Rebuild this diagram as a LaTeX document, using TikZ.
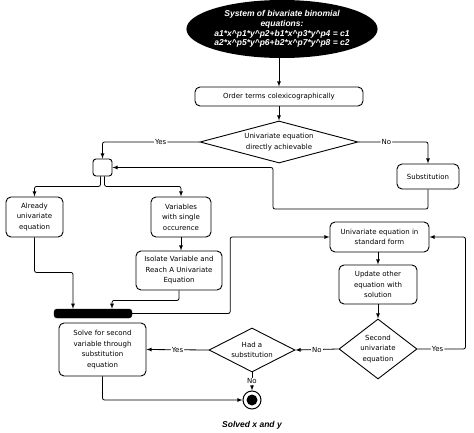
\documentclass[tikz,border=0pt]{standalone}
\usepackage{fontspec}
\setmainfont{DejaVu Sans}
\newfontfamily\headfont{Liberation Sans}
\usepackage{tikz}
\usetikzlibrary{shapes, arrows, positioning, calc}

\begin{document}
\begin{tikzpicture}[x=1pt, y=-1pt, >=latex, font=\fontsize{7}{10.5}\selectfont,
    box/.style={draw, rounded corners=5pt, line width=0.9pt, align=center, inner sep=1pt},
    choice/.style={draw, diamond, line width=0.9pt, align=center, inner sep=0pt},
    flow/.style={->, line width=0.8pt, rounded corners=2pt},
    lbl/.style={fill=white, inner sep=1pt}]
    \useasboundingbox (0,0) rectangle (474,433);

    % Start
    \node[ellipse, fill=black, text=white, inner sep=0pt, minimum width=190, minimum height=58,
          align=center, font=\headfont\bfseries\itshape\fontsize{8.5}{9.8}\selectfont] (start) at (282,29)
        {System of bivariate binomial\\equations:\\
         a1*x\textasciicircum p1*y\textasciicircum p2+b1*x\textasciicircum p3*y\textasciicircum p4 = c1\\
         a2*x\textasciicircum p5*y\textasciicircum p6+b2*x\textasciicircum p7*y\textasciicircum p8 = c2};

    % Boxes
    \node[box, minimum width=168, minimum height=19] (order) at (279,96.5) {Order terms colexicographically};
    \node[choice, aspect=3.7, minimum width=158, minimum height=42] (direct) at (279,142) {Univariate equation\\directly achievable};
    \node[box, rounded corners=3pt, minimum width=19, minimum height=17] (fork) at (102.5,167.5) {};
    \node[box, minimum width=62, minimum height=25] (subst) at (428,176.5) {Substitution};
    \node[box, minimum width=57, minimum height=40] (already) at (34.5,217) {Already\\univariate\\equation};
    \node[box, minimum width=60, minimum height=40] (single) at (181,217) {Variables\\with single\\occurence};
    \node[box, minimum width=86, minimum height=39] (isolate) at (179,270.5) {Isolate Variable and\\Reach A Univariate\\Equation};
    \node[draw, fill=black, rounded corners=3pt, minimum width=78, minimum height=9, inner sep=0pt] (join) at (93,313.5) {};
    \node[box, minimum width=99, minimum height=30] (standard) at (379.5,237) {Univariate equation in\\standard form};
    \node[box, minimum width=78, minimum height=39] (update) at (378,284.5) {Update other\\equation with\\solution};
    \node[choice, aspect=1.3, minimum width=78, minimum height=60] (second) at (378,349) {Second\\univariate\\equation};
    \node[choice, aspect=1.95, minimum width=86, minimum height=44] (hadsub) at (252,350) {Had a\\substitution};
    \node[box, minimum width=87, minimum height=53] (solve) at (102.5,349.5) {Solve for second\\variable through\\substitution\\equation};

    % End
    \node[circle, draw, fill=white, line width=1pt, minimum size=18, inner sep=0pt] (finish) at (252,400) {};
    \fill (finish) circle (5.5pt);
    \node[font=\headfont\bfseries\itshape\fontsize{8.5}{10}\selectfont] (solved) at (252,425) {Solved x and y};

    % Connectors
    \coordinate (loopback) at (273,209);
    \draw[flow] (order.north |- start.south) -- (order.north);
    \draw[flow] (order) -- (direct);
    \draw[flow] (direct.west) -| node[pos=0.2, lbl] {Yes} (fork.north);
    \draw[flow] (direct.east) -| node[pos=0.2, lbl] {No} (subst.north);
    \draw[flow] (subst.south) |- (loopback) |- (fork.east);
    \draw[flow] ([xshift=-2pt]fork.south) -- ++(0,10) -| (already.north);
    \draw[flow] ([xshift=2pt]fork.south) -- ++(0,10) -| (single.north);
    \draw[flow] (single.south) -- (single.south |- isolate.north);
    \draw[flow] (already.south) -- ++(0,35) -| ([xshift=-20pt]join.north);
    \draw[flow] (isolate.south) -- ++(0,10) -| ([xshift=19pt]join.north);
    \draw[flow] (join.east) -- ++(98,0) |- (standard.west);
    \draw[flow] (standard.south -| update.north) -- (update.north);
    \draw[flow] (update) -- (second);
    \draw[flow] (second.east) -- node[pos=0.42, lbl] {Yes} ++(48,0) |- (standard.east);
    \draw[flow] (second.west) -- node[midway, lbl] {No} (hadsub.east);
    \draw[flow] (hadsub.west) -- node[midway, lbl] {Yes} (solve.east);
    \draw[flow] (hadsub.south) -- node[midway, lbl] {No} (finish.north);
    \draw[flow] (solve.south) |- (finish.west);

\end{tikzpicture}
\end{document}
